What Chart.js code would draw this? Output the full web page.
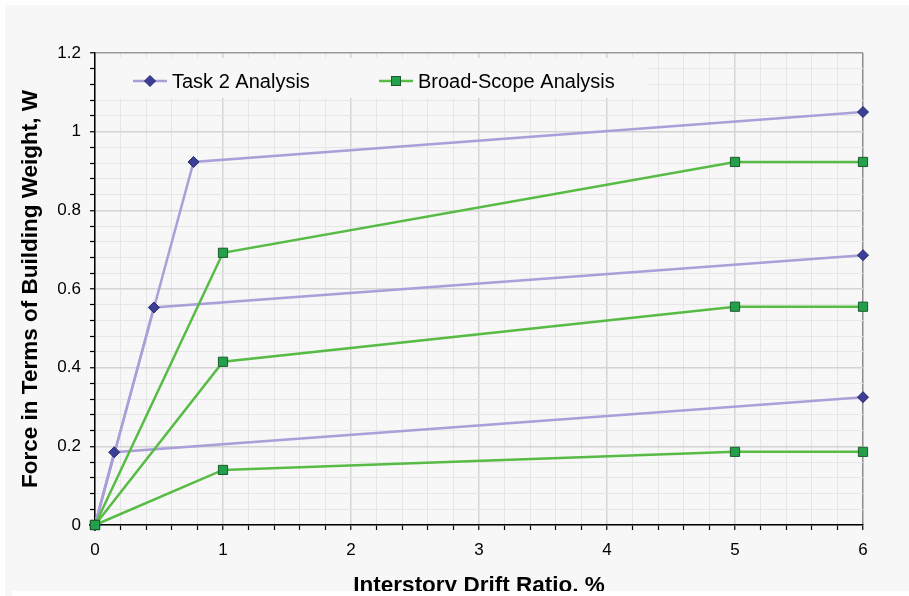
<!DOCTYPE html>
<html>
<head>
<meta charset="utf-8">
<script src="https://cdn.jsdelivr.net/npm/chart.js@4.4.1/dist/chart.umd.min.js"></script>
<style>
  html, body { margin: 0; padding: 0; background: #ffffff; }
  #wrap { width: 909px; height: 596px; }
</style>
</head>
<body>
<div id="wrap"><canvas id="drift-chart"></canvas></div>
<script>
// Task 2 analysis curves: interstory drift ratio (%) vs force (W)
const task2DriftLow = [0, 0.15, 6];
const task2ForceLow = [0, 0.185, 0.325];
const task2DriftMid = [0, 0.46, 6];
const task2ForceMid = [0, 0.553, 0.686];
const task2DriftHigh = [0, 0.77, 6];
const task2ForceHigh = [0, 0.923, 1.05];

// Broad-scope analysis curves share the same drift points
const broadDrift = [0, 1, 5, 6];
const broadForceLow = [0, 0.14, 0.186, 0.186];
const broadForceMid = [0, 0.415, 0.555, 0.555];
const broadForceHigh = [0, 0.692, 0.923, 0.923];

const legendLabels = ['Task 2 Analysis', 'Broad-Scope Analysis'];

const PURPLE_LINE = '#aa9fd8';
const PURPLE_MARK = '#3d3f96';
const PURPLE_EDGE = '#25276a';
const GREEN_LINE = '#57bb45';
const GREEN_MARK = '#22a04c';
const GREEN_EDGE = '#1c5a2a';

function toPoints(xs, ys) {
    return xs.map((x, i) => ({ x: x, y: ys[i] }));
}

function task2Set(xs, ys) {
    return {
        data: toPoints(xs, ys),
        showLine: true,
        borderColor: PURPLE_LINE,
        borderWidth: 2.5,
        pointStyle: 'rectRot',
        pointRadius: 5.5,
        pointBackgroundColor: PURPLE_MARK,
        pointBorderColor: PURPLE_EDGE,
        pointBorderWidth: 1,
        clip: false,
        order: 1
    };
}

function broadSet(ys) {
    return {
        data: toPoints(broadDrift, ys),
        showLine: true,
        borderColor: GREEN_LINE,
        borderWidth: 2.5,
        pointStyle: 'rect',
        pointRadius: 6.5,
        pointBackgroundColor: GREEN_MARK,
        pointBorderColor: GREEN_EDGE,
        pointBorderWidth: 1,
        clip: false,
        order: 0
    };
}

function isMajor(v, step) {
    const r = v / step;
    return Math.abs(r - Math.round(r)) < 1e-6;
}

// grey panel behind everything, white frame trimmed on top afterwards
const panelPlugin = {
    id: 'panel',
    beforeDraw(chart) {
        const ctx = chart.ctx;
        ctx.save();
        ctx.fillStyle = '#f7f7f7';
        ctx.fillRect(5, 5, chart.width - 5, chart.height - 5);
        ctx.restore();
    },
    afterDraw(chart) {
        const ctx = chart.ctx;
        ctx.save();
        ctx.fillStyle = '#ffffff';
        ctx.fillRect(12, 591, chart.width - 12, chart.height - 591);
        ctx.restore();
    }
};

// legend box sitting inside the plot, over the grid
const insideLegend = {
    id: 'insideLegend',
    beforeDatasetsDraw(chart) {
        const ctx = chart.ctx;
        const area = chart.chartArea;
        ctx.save();
        ctx.fillStyle = '#f7f7f7';
        ctx.fillRect(area.left + 1, 58, 648 - area.left - 1, 40);

        const y = 81;
        ctx.lineWidth = 2.5;

        // Task 2 sample
        ctx.strokeStyle = PURPLE_LINE;
        ctx.beginPath();
        ctx.moveTo(133, y);
        ctx.lineTo(167, y);
        ctx.stroke();
        ctx.fillStyle = PURPLE_MARK;
        ctx.strokeStyle = PURPLE_EDGE;
        ctx.lineWidth = 1;
        ctx.beginPath();
        ctx.moveTo(150, y - 5.5);
        ctx.lineTo(155.5, y);
        ctx.lineTo(150, y + 5.5);
        ctx.lineTo(144.5, y);
        ctx.closePath();
        ctx.fill();
        ctx.stroke();

        // Broad-scope sample
        ctx.lineWidth = 2.5;
        ctx.strokeStyle = GREEN_LINE;
        ctx.beginPath();
        ctx.moveTo(379, y);
        ctx.lineTo(413, y);
        ctx.stroke();
        ctx.fillStyle = GREEN_MARK;
        ctx.strokeStyle = GREEN_EDGE;
        ctx.lineWidth = 1;
        ctx.fillRect(391.5, y - 4.5, 9, 9);
        ctx.strokeRect(391.5, y - 4.5, 9, 9);

        ctx.fillStyle = '#000000';
        ctx.font = '20px "Liberation Sans", Arial, sans-serif';
        ctx.textBaseline = 'alphabetic';
        ctx.fillText(legendLabels[0], 172, y + 7);
        ctx.fillText(legendLabels[1], 418, y + 7);
        ctx.restore();
    }
};

const tickFont = { family: '"Liberation Sans", Arial, sans-serif', size: 17 };
const titleFont = { family: '"Liberation Sans", Arial, sans-serif', size: 22.5, weight: 'bold', lineHeight: 1.1 };

new Chart(document.getElementById('drift-chart'), {
    type: 'scatter',
    data: {
        datasets: [
            broadSet(broadForceLow),
            broadSet(broadForceMid),
            broadSet(broadForceHigh),
            task2Set(task2DriftLow, task2ForceLow),
            task2Set(task2DriftMid, task2ForceMid),
            task2Set(task2DriftHigh, task2ForceHigh)
        ]
    },
    options: {
        responsive: true,
        maintainAspectRatio: false,
        animation: false,
        layout: {
            padding: { left: 0, top: 53, right: 46, bottom: 0 }
        },
        plugins: {
            legend: { display: false },
            tooltip: { enabled: false }
        },
        scales: {
            x: {
                type: 'linear',
                min: 0,
                max: 6,
                afterFit: (scale) => { scale.height = 71; },
                border: { color: '#000000', width: 1.5 },
                grid: {
                    color: (c) => {
                        const v = c.tick.value;
                        if (v === 6) return '#8c8c8c';
                        return isMajor(v, 1) ? '#d4d4d4' : '#e6e6e6';
                    },
                    lineWidth: (c) => isMajor(c.tick.value, 1) ? 1.5 : 1,
                    tickColor: '#000000',
                    tickLength: 5,
                    tickWidth: 1.2
                },
                ticks: {
                    stepSize: 0.2,
                    autoSkip: false,
                    maxRotation: 0,
                    padding: 10,
                    color: '#000000',
                    font: tickFont,
                    callback: (v) => isMajor(v, 1) ? String(Math.round(v)) : ''
                },
                title: {
                    display: true,
                    text: 'Interstory Drift Ratio, %',
                    color: '#000000',
                    font: titleFont,
                    padding: { top: 0, bottom: -2 }
                }
            },
            y: {
                type: 'linear',
                min: 0,
                max: 1.2,
                afterFit: (scale) => { scale.width = 95; },
                border: { color: '#000000', width: 1.5 },
                grid: {
                    color: (c) => {
                        const v = c.tick.value;
                        if (Math.abs(v - 1.2) < 1e-6) return '#999999';
                        return isMajor(v, 0.2) ? '#d4d4d4' : '#e6e6e6';
                    },
                    lineWidth: (c) => isMajor(c.tick.value, 0.2) ? 1.5 : 1,
                    tickColor: '#000000',
                    tickLength: 5,
                    tickWidth: 1.2
                },
                ticks: {
                    stepSize: 0.04,
                    autoSkip: false,
                    padding: 9,
                    color: '#000000',
                    font: tickFont,
                    callback: (v) => isMajor(v, 0.2) ? String(Math.round(v * 10) / 10) : ''
                },
                title: {
                    display: true,
                    text: 'Force in Terms of Building Weight, W',
                    color: '#000000',
                    font: titleFont,
                    padding: { top: 18, bottom: 0 }
                }
            }
        }
    },
    plugins: [panelPlugin, insideLegend]
});
</script>
</body>
</html>
